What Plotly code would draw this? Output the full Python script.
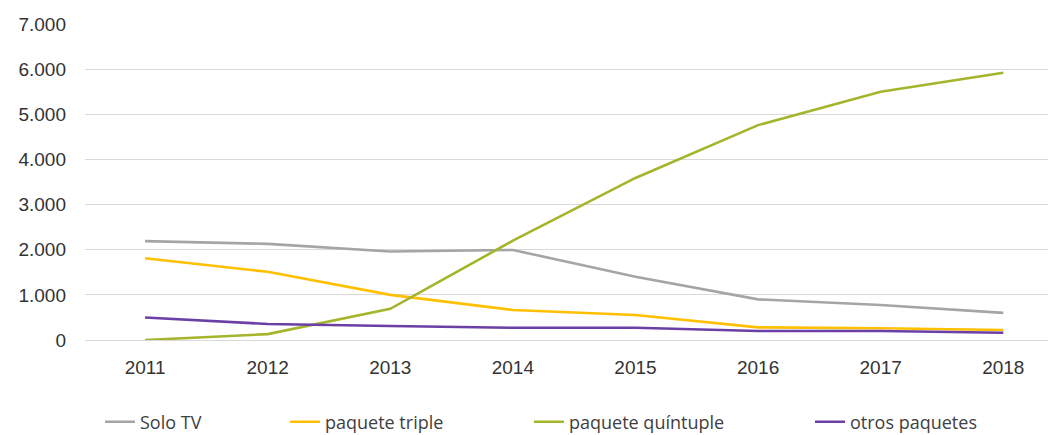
import plotly.graph_objects as go

# ---- data ----
years = ["2011", "2012", "2013", "2014", "2015", "2016", "2017", "2018"]

solo_tv = [2190, 2130, 1960, 1995, 1400, 900, 775, 600]
paquete_triple = [1810, 1510, 1000, 665, 555, 280, 260, 220]
paquete_quintuple = [0, 130, 690, 2200, 3590, 4760, 5500, 5920]
otros_paquetes = [500, 355, 310, 270, 270, 200, 200, 160]

series_names = ["Solo TV", "paquete triple", "paquete quíntuple", "otros paquetes"]
series_values = [solo_tv, paquete_triple, paquete_quintuple, otros_paquetes]
series_colors = ["#A5A5A5", "#FFC000", "#A5B52B", "#6B3FA6"]

# legend text start positions on screen (pixels), one legend per series
legend_text_px = [140, 325, 569, 850]

# the page body has an 8px margin, so the figure is drawn 8px in from the corner
OFF = 8
W, H = 1056 - OFF, 435 - OFF
L, R, T, B = 85 - OFF, 0, 24 - OFF, 435 - 340

fig = go.Figure()

for i, (name, vals, col) in enumerate(zip(series_names, series_values, series_colors)):
    leg = "legend" if i == 0 else f"legend{i + 1}"
    fig.add_trace(go.Scatter(
        x=years, y=vals, name=name, mode="lines",
        line=dict(color=col, width=2.6),
        legend=leg, showlegend=True,
    ))

legend_layout = {}
for i, px in enumerate(legend_text_px):
    key = "legend" if i == 0 else f"legend{i + 1}"
    legend_layout[key] = dict(
        xref="container", yref="container",
        x=(px - OFF - 40) / W, xanchor="left",
        y=1 - (422 - OFF) / H, yanchor="middle",
        orientation="h",
        font=dict(family="Open Sans, Liberation Sans, sans-serif", size=18, color="#404040"),
        bgcolor="rgba(0,0,0,0)",
    )

fig.update_layout(
    width=W, height=H,
    margin=dict(l=L, r=R, t=T, b=B, autoexpand=False),
    showlegend=True,
    plot_bgcolor="white",
    paper_bgcolor="white",
    separators=",.",
    font=dict(family="Liberation Sans, Arial, sans-serif", size=19, color="#333333"),
    xaxis=dict(
        type="category",
        range=[-0.49, 7.43],
        showgrid=False, showline=False, zeroline=False,
        ticks="", ticklabelstandoff=14,
        tickfont=dict(size=19, color="#333333"),
    ),
    yaxis=dict(
        range=[0, 7000], dtick=1000, tickformat=",d",
        showgrid=True, gridcolor="#D9D9D9", gridwidth=1,
        zeroline=True, zerolinecolor="#D9D9D9", zerolinewidth=1,
        showline=False, ticks="", ticklabelstandoff=18,
        tickfont=dict(size=19, color="#333333"),
    ),
    **legend_layout,
)

fig.write_html("out.html")
